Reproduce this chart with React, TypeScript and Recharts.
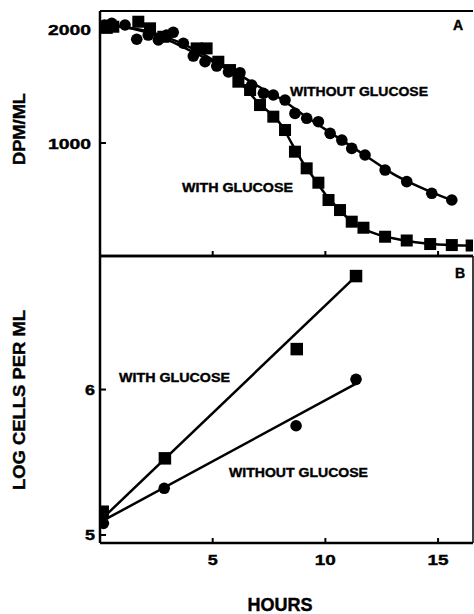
import { ComposedChart, Line, Scatter, XAxis, YAxis, ReferenceLine } from 'recharts';

const FONT = '"Liberation Sans", Arial, Helvetica, sans-serif';

// Panel A: DPM/ML over time
const circlesAHours = [0.2, 0.52, 1.11, 1.63, 2.14, 2.59, 2.96, 3.25, 3.7, 4.14, 4.66, 5.18, 5.7, 6.21, 6.73, 7.25, 7.69, 8.21, 8.65, 9.17, 9.69, 10.21, 10.73, 11.17, 11.76, 12.65, 13.61, 14.72, 15.61];
const circlesADpm = [2035, 2050, 2035, 1910, 1947, 1904, 1947, 1971, 1875, 1763, 1713, 1675, 1623, 1617, 1509, 1436, 1421, 1377, 1260, 1217, 1187, 1085, 1026, 953, 895, 763, 661, 559, 500];
const squaresAHours = [0.3, 0.59, 1.7, 2.22, 2.81, 4.29, 4.73, 5.25, 5.77, 6.14, 6.66, 7.1, 7.69, 8.21, 8.65, 9.17, 9.69, 10.14, 10.65, 11.17, 11.69, 12.65, 13.61, 14.65, 15.61, 16.49];
const squaresADpm = [2010, 2020, 2064, 2006, 1932, 1830, 1830, 1713, 1640, 1538, 1465, 1333, 1231, 1114, 924, 778, 652, 500, 412, 310, 257, 178, 145, 114, 105, 101];

// fitted curves
const withoutCurveHours = [0, 1, 2, 3, 4, 5, 6, 7, 8, 9, 10, 11, 12, 13, 14, 15, 15.6];
const withoutCurveDpm = [2040, 2020, 1975, 1905, 1810, 1715, 1620, 1500, 1390, 1250, 1120, 990, 860, 730, 630, 545, 500];
const withCurveHours = [0, 1, 2, 3, 4, 5, 6, 7, 7.5, 8, 8.5, 9, 9.5, 10, 10.5, 11, 11.5, 12, 13, 14, 15, 16.5];
const withCurveDpm = [2040, 2020, 1985, 1925, 1840, 1730, 1580, 1360, 1270, 1170, 1000, 830, 690, 550, 440, 340, 270, 220, 165, 130, 110, 100];

// Panel B: log cells per ml
const squaresBHours = [0.12, 2.88, 8.73, 11.36];
const squaresBLog = [5.16, 5.527, 6.278, 6.78];
const circlesBHours = [0.15, 2.85, 8.7, 11.36];
const circlesBLog = [5.08, 5.321, 5.751, 6.07];
const withLineHours = [0.15, 11.36];
const withLineLog = [5.12, 6.78];
const withoutLineHours = [0.15, 11.36];
const withoutLineLog = [5.1, 6.04];

const hourTicks = [5, 10, 15];
const dpmTicks = [1000, 2000];
const logTicks = [5, 6];

const zip = (hs: number[], vs: number[]) => hs.map((h, i) => ({ h, v: vs[i] }));

const Dot = (p: any) => <circle cx={p.cx} cy={p.cy} r={5.8} fill="#000" />;
const Sq = (size: number) => (p: any) => (
  <rect x={p.cx - size / 2} y={p.cy - size / 2} width={size} height={size} fill="#000" />
);

const txt = {
  fontFamily: FONT, fontWeight: 'bold' as const, fill: '#000',
  stroke: '#000', strokeWidth: 0.4, lengthAdjust: 'spacingAndGlyphs',
};

const yTick = (gap: number) => (p: any) => {
  const label = String(p.payload.value);
  return (
    <g>
      <line x1={p.x} y1={p.y} x2={p.x + 6} y2={p.y} stroke="#000" strokeWidth={2} />
      <text {...txt} x={p.x - gap} y={p.y + 5.5} textAnchor="end" fontSize={15}
        textLength={label.length * 11 - 1}>{label}</text>
    </g>
  );
};

const xTick = (showLabel: boolean) => (p: any) => {
  const label = String(p.payload.value);
  return (
    <g>
      <line x1={p.x} y1={p.y} x2={p.x} y2={p.y - 5} stroke="#000" strokeWidth={2} />
      {showLabel && (
        <text {...txt} x={p.x} y={p.y + 22} textAnchor="middle" fontSize={15}
          textLength={label.length * 11 - 1}>{label}</text>
      )}
    </g>
  );
};

export default function App() {
  const axisLine = { stroke: '#000', strokeWidth: 2.5 };
  return (
    <div style={{ position: 'absolute', left: 0, top: 0, width: 474, height: 614, background: '#fff' }}>
      <div style={{ position: 'absolute', left: 0, top: 0 }}>
        <ComposedChart width={474} height={270} margin={{ top: 11, right: 1, bottom: 0, left: 0 }}>
          <XAxis dataKey="h" type="number" domain={[0, 16.55]} ticks={hourTicks} interval={0} height={14}
            tickSize={0} tickMargin={0} axisLine={axisLine} tickLine={false} tick={xTick(false)} allowDataOverflow />
          <YAxis dataKey="v" type="number" domain={[9, 2158]} ticks={dpmTicks} interval={0} width={100}
            tickSize={0} tickMargin={0} axisLine={axisLine} tickLine={false} tick={yTick(9)} allowDataOverflow />
          <ReferenceLine y={2158} stroke="#000" strokeWidth={2} ifOverflow="visible" />
          <Line data={zip(withoutCurveHours, withoutCurveDpm)} dataKey="v" type="monotone" stroke="#000"
            strokeWidth={2.5} dot={false} isAnimationActive={false} />
          <Line data={zip(withCurveHours, withCurveDpm)} dataKey="v" type="monotone" stroke="#000"
            strokeWidth={2.5} dot={false} isAnimationActive={false} />
          <Scatter data={zip(circlesAHours, circlesADpm)} dataKey="v" shape={Dot} isAnimationActive={false} />
          <Scatter data={zip(squaresAHours, squaresADpm)} dataKey="v" shape={Sq(12)} isAnimationActive={false} />
        </ComposedChart>
      </div>
      <div style={{ position: 'absolute', left: 0, top: 0 }}>
        <ComposedChart width={474} height={614} margin={{ top: 256, right: 1, bottom: 0, left: 0 }}>
          <XAxis dataKey="h" type="number" domain={[0, 16.55]} ticks={hourTicks} interval={0} height={71}
            tickSize={0} tickMargin={0} axisLine={axisLine} tickLine={false} tick={xTick(true)} allowDataOverflow />
          <YAxis dataKey="v" type="number" domain={[4.945, 6.918]} ticks={logTicks} interval={0} width={100}
            tickSize={0} tickMargin={0} axisLine={axisLine} tickLine={false} tick={yTick(5)} allowDataOverflow />
          <ReferenceLine y={6.918} stroke="#000" strokeWidth={2.5} ifOverflow="visible" />
          <ReferenceLine x={16.55} stroke="#000" strokeWidth={1.5} ifOverflow="visible" />
          <Line data={zip(withLineHours, withLineLog)} dataKey="v" type="linear" stroke="#000"
            strokeWidth={2.5} dot={false} isAnimationActive={false} />
          <Line data={zip(withoutLineHours, withoutLineLog)} dataKey="v" type="linear" stroke="#000"
            strokeWidth={2.5} dot={false} isAnimationActive={false} />
          <Scatter data={zip(circlesBHours, circlesBLog)} dataKey="v" shape={Dot} isAnimationActive={false} />
          <Scatter data={zip(squaresBHours, squaresBLog)} dataKey="v" shape={Sq(12.5)} isAnimationActive={false} />
        </ComposedChart>
      </div>
      <svg width={474} height={614} style={{ position: 'absolute', left: 0, top: 0, pointerEvents: 'none' }}>
        <text {...txt} x={458} y={30} fontSize={14} textAnchor="middle">A</text>
        <text {...txt} x={460} y={278} fontSize={14} textAnchor="middle">B</text>
        <text {...txt} x={290} y={96} fontSize={13.5} textLength={138}>WITHOUT GLUCOSE</text>
        <text {...txt} x={182} y={192} fontSize={13.5} textLength={111}>WITH GLUCOSE</text>
        <text {...txt} x={119} y={382} fontSize={13.5} textLength={111}>WITH GLUCOSE</text>
        <text {...txt} x={229} y={477} fontSize={13.5} textLength={139}>WITHOUT GLUCOSE</text>
        <text {...txt} x={280} y={611} fontSize={18} textAnchor="middle" textLength={65}>HOURS</text>
        <text {...txt} fontSize={16.5} textAnchor="middle" textLength={72} transform="translate(25 129) rotate(-90)">DPM/ML</text>
        <text {...txt} fontSize={16.5} textAnchor="middle" textLength={180} transform="translate(25 400) rotate(-90)">LOG CELLS PER ML</text>
      </svg>
    </div>
  );
}
